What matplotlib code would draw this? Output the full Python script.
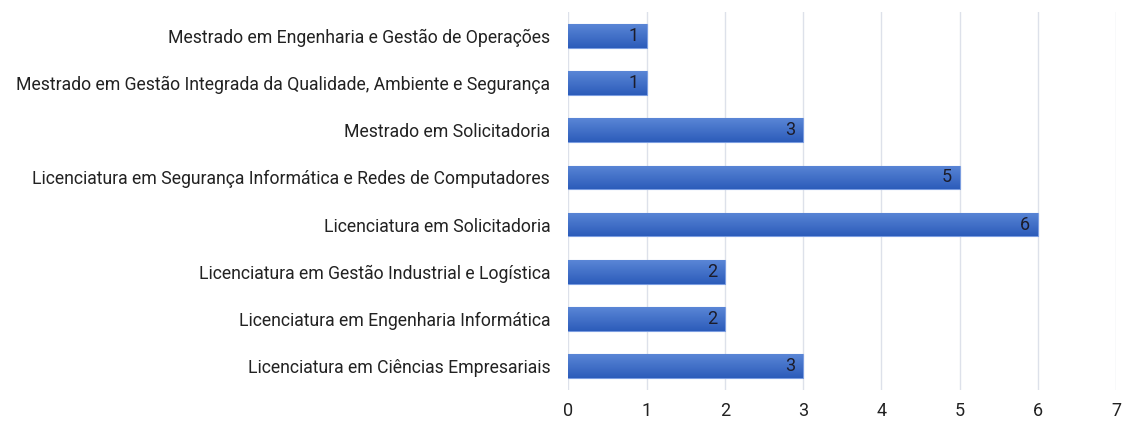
import numpy as np
import matplotlib.pyplot as plt
from matplotlib.colors import LinearSegmentedColormap

# Dados
cursos = [
    "Mestrado em Engenharia e Gestão de Operações",
    "Mestrado em Gestão Integrada da Qualidade, Ambiente e Segurança",
    "Mestrado em Solicitadoria",
    "Licenciatura em Segurança Informática e Redes de Computadores",
    "Licenciatura em Solicitadoria",
    "Licenciatura em Gestão Industrial e Logística",
    "Licenciatura em Engenharia Informática",
    "Licenciatura em Ciências Empresariais",
]
valores = [1, 1, 3, 5, 6, 2, 2, 3]
ticks_x = [0, 1, 2, 3, 4, 5, 6, 7]

plt.rcParams['font.family'] = ['Roboto', 'DejaVu Sans']

fig = plt.figure(figsize=(11.23, 4.21), dpi=100)
ax = fig.add_axes([0.506, 0.074, 0.488, 0.897])

y = np.arange(len(cursos))
bars = ax.barh(y, valores, height=0.5, color='#3d6cc8', edgecolor='#7b9de0', linewidth=0.8, zorder=3)

# gradiente dentro das barras (mais claro em cima)
cmap = LinearSegmentedColormap.from_list('g', ['#5a86d6', '#2c5cba'])
grad = np.linspace(0, 1, 100).reshape(-1, 1)
for b in bars:
    x0, y0, w, h = b.get_x(), b.get_y(), b.get_width(), b.get_height()
    im = ax.imshow(grad, cmap=cmap, aspect='auto', extent=[x0, x0 + w, y0 + h, y0], zorder=3.5)
    im.set_clip_path(b)

for yi, v in zip(y, valores):
    ax.text(v - 0.1, yi, str(v), ha='right', va='center', fontsize=13, color='#1c1c2a', zorder=5)

ax.set_yticks(y)
ax.set_yticklabels(cursos, fontsize=12.7, color='#222222')
ax.set_ylim(len(cursos) - 0.5, -0.5)
ax.set_xlim(0, 7)
ax.set_xticks(ticks_x)
ax.tick_params(axis='x', labelsize=13, colors='#222222', length=0, pad=9)
ax.tick_params(axis='y', length=0, pad=13)
ax.grid(axis='x', color='#dde1ea', linewidth=1, zorder=0)
for s in ax.spines.values():
    s.set_visible(False)

fig.savefig('out.png', dpi=100)
